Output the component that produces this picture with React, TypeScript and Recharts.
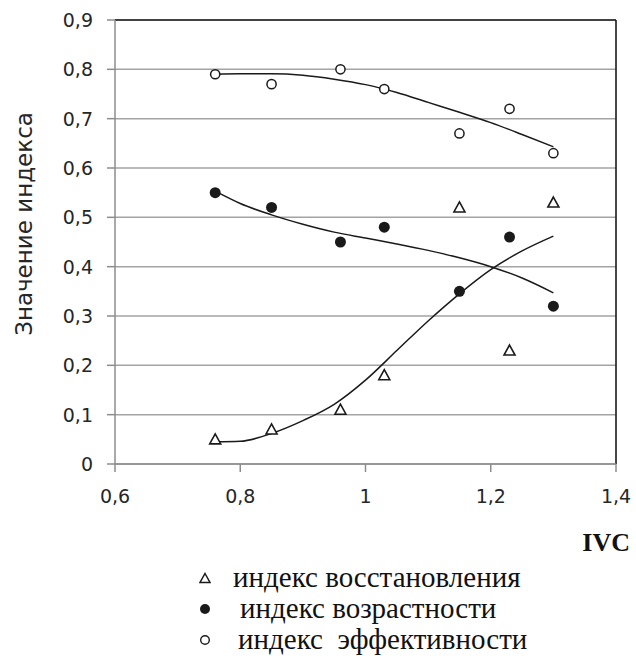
import React from 'react';
import {
  ComposedChart,
  Scatter,
  Line,
  XAxis,
  YAxis,
  CartesianGrid,
  ReferenceLine,
} from 'recharts';

// IVC values at which the indices were measured
const ivc = [0.76, 0.85, 0.96, 1.03, 1.15, 1.23, 1.3];

// Index values per IVC point
const recoveryIndex = [0.05, 0.07, 0.11, 0.18, 0.52, 0.23, 0.53];
const ageIndex = [0.55, 0.52, 0.45, 0.48, 0.35, 0.46, 0.32];
const efficiencyIndex = [0.79, 0.77, 0.8, 0.76, 0.67, 0.72, 0.63];

// Trend curves sampled along the IVC range
const trendIvc = [0.76, 0.8, 0.85, 0.9, 0.95, 1.0, 1.05, 1.1, 1.15, 1.2, 1.25, 1.3];
const recoveryTrend = [0.045, 0.046, 0.062, 0.088, 0.121, 0.17, 0.23, 0.29, 0.345, 0.394, 0.432, 0.462];
const ageTrend = [0.553, 0.528, 0.505, 0.486, 0.47, 0.458, 0.446, 0.433, 0.418, 0.4, 0.377, 0.347];
const efficiencyTrend = [0.79, 0.791, 0.791, 0.788, 0.78, 0.769, 0.753, 0.733, 0.713, 0.692, 0.668, 0.643];

// Axis ticks and captions
const xTicks = [0.6, 0.8, 1, 1.2, 1.4];
const yTicks = [0, 0.1, 0.2, 0.3, 0.4, 0.5, 0.6, 0.7, 0.8, 0.9];
const yTitle = 'Значение индекса';
const xTitle = 'IVC';
const legendLabels = ['индекс восстановления', 'индекс возрастности', 'индекс\u00a0 эффективности'];

const pairs = (xs: number[], ys: number[]) => xs.map((x, i) => ({ x, y: ys[i] }));

const recoveryData = pairs(ivc, recoveryIndex);
const ageData = pairs(ivc, ageIndex);
const efficiencyData = pairs(ivc, efficiencyIndex);
const recoveryTrendData = pairs(trendIvc, recoveryTrend);
const ageTrendData = pairs(trendIvc, ageTrend);
const efficiencyTrendData = pairs(trendIvc, efficiencyTrend);

const INK = '#1a1a1a';
const TEXT = '#262626';
const GRID = '#a3a3a3';
const AXIS = '#8c8c8c';
const SANS = '"DejaVu Sans", Verdana, sans-serif';
const SERIF = '"Liberation Serif", "Times New Roman", serif';

const fmt = (v: number) => String(v).replace('.', ',');

const TriangleMark = ({ cx, cy }: any) => (
  <path
    d={`M${cx},${cy - 5.5} L${cx + 5.5},${cy + 4.5} L${cx - 5.5},${cy + 4.5} Z`}
    fill="#fff"
    stroke={INK}
    strokeWidth={1.6}
  />
);
const DotMark = ({ cx, cy }: any) => <circle cx={cx} cy={cy} r={5.5} fill={INK} />;
const RingMark = ({ cx, cy }: any) => (
  <circle cx={cx} cy={cy} r={4.6} fill="#fff" stroke={INK} strokeWidth={1.5} />
);

const XTick = ({ x, y, payload }: any) => (
  <text x={x} y={y + 29} textAnchor="middle" fontFamily={SANS} fontSize={19} fill={TEXT}>
    {fmt(payload.value)}
  </text>
);

const YTick = ({ x, y, payload }: any) => (
  <text x={x} y={y} dy="0.36em" textAnchor="end" fontFamily={SANS} fontSize={19} fill={TEXT}>
    {fmt(payload.value)}
  </text>
);

const YTitle = ({ viewBox }: any) => {
  const cx = viewBox.x + 24;
  const cy = viewBox.y + viewBox.height / 2 - 18;
  return (
    <text
      x={cx}
      y={cy}
      transform={`rotate(-90 ${cx} ${cy})`}
      textAnchor="middle"
      dy="0.36em"
      fontFamily={SANS}
      fontSize={23}
      fill={TEXT}
    >
      {yTitle}
    </text>
  );
};

const XTitle = ({ viewBox }: any) => (
  <text
    x={viewBox.x + viewBox.width + 14}
    y={viewBox.y + 87}
    textAnchor="end"
    fontFamily={SERIF}
    fontWeight="bold"
    fontSize={26}
    fill="#111"
  >
    {xTitle}
  </text>
);

const legendMarks = [
  <path key="t" d="M6,1.5 L11,10.5 L1,10.5 Z" fill="#fff" stroke={INK} strokeWidth={1.5} />,
  <circle key="d" cx={6} cy={6} r={5} fill={INK} />,
  <circle key="r" cx={6} cy={6} r={4.3} fill="#fff" stroke={INK} strokeWidth={1.4} />,
];
const legendTextLeft = [233, 240, 238];
const legendTop = [562, 593, 624];

export default function App() {
  return (
    <div style={{ position: 'absolute', left: 0, top: 0, width: 636, height: 663, background: '#fff' }}>
      <ComposedChart width={636} height={663} margin={{ top: 20, right: 20, bottom: 159, left: 0 }}>
        <CartesianGrid vertical={false} stroke={GRID} strokeWidth={1.5} />
        <XAxis
          type="number"
          dataKey="x"
          domain={[0.6, 1.4]}
          ticks={xTicks}
          interval={0}
          height={40}
          tickSize={8}
          tickMargin={2}
          tick={<XTick />}
          tickLine={{ stroke: AXIS, strokeWidth: 1.5 }}
          axisLine={{ stroke: AXIS, strokeWidth: 1.5 }}
          label={<XTitle />}
          allowDataOverflow
        />
        <YAxis
          type="number"
          dataKey="y"
          domain={[0, 0.9]}
          ticks={yTicks}
          interval={0}
          width={115}
          tickSize={8}
          tickMargin={14}
          tick={<YTick />}
          tickLine={{ stroke: AXIS, strokeWidth: 1.5 }}
          axisLine={{ stroke: AXIS, strokeWidth: 1.5 }}
          label={<YTitle />}
          allowDataOverflow
        />
        <ReferenceLine y={0.9} stroke={INK} strokeWidth={1.6} />
        <ReferenceLine x={1.4} stroke={INK} strokeWidth={1.6} />

        <Line data={efficiencyTrendData} dataKey="y" type="monotone" dot={false} stroke={INK} strokeWidth={1.5} isAnimationActive={false} />
        <Line data={ageTrendData} dataKey="y" type="monotone" dot={false} stroke={INK} strokeWidth={1.5} isAnimationActive={false} />
        <Line data={recoveryTrendData} dataKey="y" type="monotone" dot={false} stroke={INK} strokeWidth={1.5} isAnimationActive={false} />

        <Scatter data={efficiencyData} dataKey="y" shape={<RingMark />} isAnimationActive={false} />
        <Scatter data={ageData} dataKey="y" shape={<DotMark />} isAnimationActive={false} />
        <Scatter data={recoveryData} dataKey="y" shape={<TriangleMark />} isAnimationActive={false} />
      </ComposedChart>

      {legendLabels.map((label, i) => (
        <div key={label} style={{ position: 'absolute', left: 0, top: legendTop[i], height: 30, width: 636 }}>
          <svg width={12} height={12} style={{ position: 'absolute', left: 199, top: 10 }}>
            {legendMarks[i]}
          </svg>
          <span
            style={{
              position: 'absolute',
              left: legendTextLeft[i],
              top: 0,
              fontFamily: SERIF,
              fontSize: 29,
              lineHeight: '30px',
              color: '#111',
              whiteSpace: 'pre',
            }}
          >
            {label}
          </span>
        </div>
      ))}
    </div>
  );
}
